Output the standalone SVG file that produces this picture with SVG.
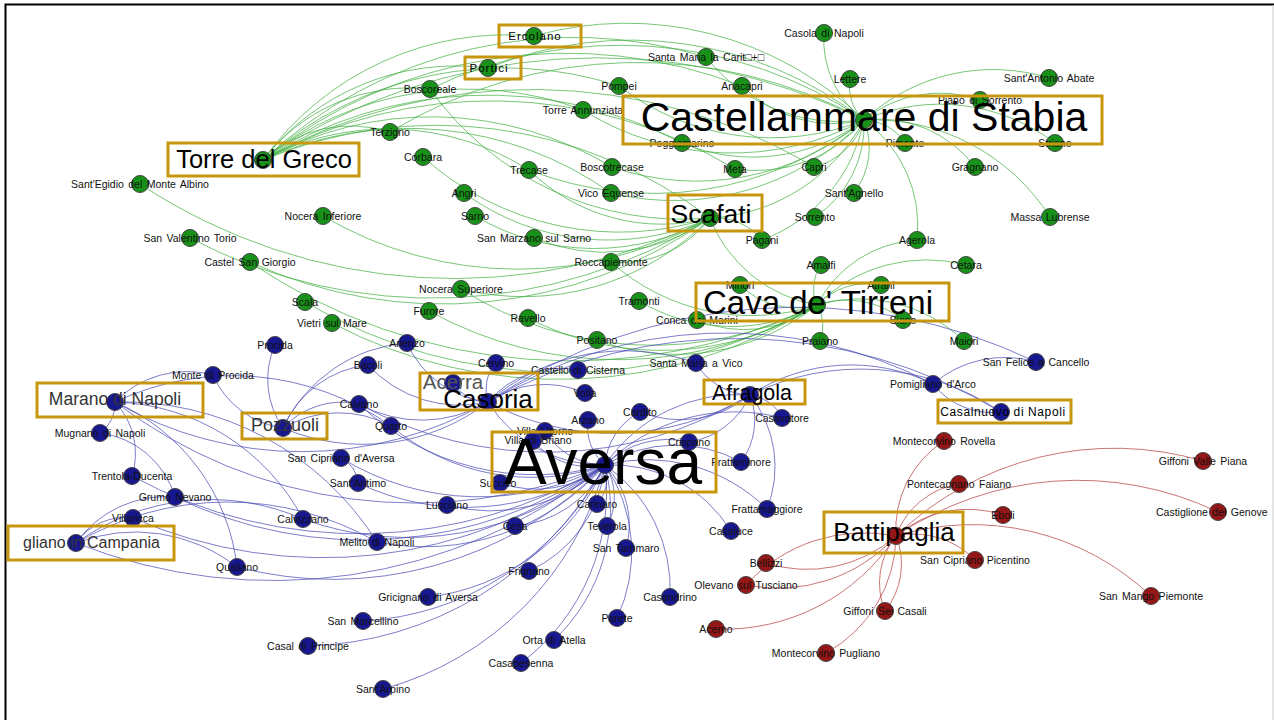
<svg xmlns="http://www.w3.org/2000/svg" width="1274" height="720" viewBox="0 0 1274 720">
<style>
.eg path{fill:none;stroke:#3fae3f;stroke-opacity:.7;stroke-width:1}
.eb path{fill:none;stroke:#4646b4;stroke-opacity:.7;stroke-width:1}
.er path{fill:none;stroke:#b84848;stroke-opacity:.75;stroke-width:1}
circle{stroke:#444;stroke-width:1}
.g{fill:#179117}
.b{fill:#17178f}
.r{fill:#951616}
text{font-family:"Liberation Sans",Arial,sans-serif;fill:#111}
.l{font-size:10.5px;text-anchor:middle;word-spacing:1.5px}
.hb{fill:none;stroke:#c8960c;stroke-width:3}
.ht{text-anchor:middle;fill:#000}
</style>
<rect width="1274" height="720" fill="#fff"/>
<path d="M5.5 720V4.5H1274" fill="none" stroke="#000" stroke-width="2"/>
<path d="M1273 5V720" stroke="#ccc" stroke-width="1"/>
<g id="connectors">
<g class="eg">
<path d="M864 120A100 100 0 0 1 824 33"/>
<path d="M864 120A45 45 0 0 1 850 79"/>
<path d="M864 120A130 130 0 0 1 742 86"/>
<path d="M864 120A170 170 0 0 1 706 57"/>
<path d="M864 120A250 250 0 0 1 619 86"/>
<path d="M864 120A120 120 0 0 1 980 100"/>
<path d="M864 120A190 190 0 0 1 1049 78"/>
<path d="M864 120A50 50 0 0 1 905 143"/>
<path d="M864 120A190 190 0 0 1 1055 143"/>
<path d="M864 120A120 120 0 0 1 975 167"/>
<path d="M864 120A210 210 0 0 1 1050 217"/>
<path d="M864 120A130 130 0 0 1 917 240"/>
<path d="M864 120A75 75 0 0 1 854 193"/>
<path d="M864 120A110 110 0 0 1 815 217"/>
<path d="M864 120A70 70 0 0 1 814 167"/>
<path d="M864 120A140 140 0 0 1 735 169"/>
<path d="M864 120A185 185 0 0 1 682 143"/>
<path d="M864 120A265 265 0 0 1 611 193"/>
<path d="M864 120A260 260 0 0 1 612 167"/>
<path d="M864 120A280 280 0 0 1 583 110"/>
<path d="M864 120A340 340 0 0 1 529 170"/>
<path d="M390 132A475 475 0 0 1 864 120"/>
<path d="M430 89A435 435 0 0 1 864 120"/>
<path d="M488 68A380 380 0 0 1 864 120"/>
<path d="M534 36A340 340 0 0 1 864 120"/>
<path d="M864 120A185 185 0 0 1 710 218"/>
<path d="M864 120A160 160 0 0 1 762 240"/>
<path d="M263 160A300 300 0 0 1 534 36"/>
<path d="M263 160A245 245 0 0 1 488 68"/>
<path d="M263 160A185 185 0 0 1 430 89"/>
<path d="M263 160A365 365 0 0 1 619 86"/>
<path d="M263 160A330 330 0 0 1 583 110"/>
<path d="M263 160A130 130 0 0 1 390 132"/>
<path d="M263 160A350 350 0 0 1 612 167"/>
<path d="M263 160A265 265 0 0 1 529 170"/>
<path d="M263 160A420 420 0 0 1 682 143"/>
<path d="M263 160A470 470 0 0 1 735 169"/>
<path d="M263 160A550 550 0 0 1 814 167"/>
<path d="M263 160A350 350 0 0 1 611 193"/>
<path d="M263 160A455 455 0 0 1 706 57"/>
<path d="M263 160A485 485 0 0 1 742 86"/>
<path d="M263 160A600 600 0 0 1 864 120"/>
<path d="M263 160A450 450 0 0 1 710 218"/>
<path d="M710 218A570 570 0 0 1 140 184"/>
<path d="M710 218A385 385 0 0 1 323 216"/>
<path d="M710 218A520 520 0 0 1 190 238"/>
<path d="M710 218A460 460 0 0 1 250 262"/>
<path d="M710 218A245 245 0 0 1 464 193"/>
<path d="M710 218A235 235 0 0 1 475 216"/>
<path d="M710 218A180 180 0 0 1 534 238"/>
<path d="M710 218A295 295 0 0 1 423 157"/>
<path d="M710 218A110 110 0 0 1 611 262"/>
<path d="M710 218A60 60 0 0 1 762 240"/>
<path d="M710 218A260 260 0 0 1 461 289"/>
<path d="M710 218A310 310 0 0 1 430 89"/>
<path d="M710 218A190 190 0 0 1 529 170"/>
<path d="M817 305A40 40 0 0 1 821 265"/>
<path d="M817 305A80 80 0 0 1 740 285"/>
<path d="M817 305A70 70 0 0 1 881 285"/>
<path d="M817 305A155 155 0 0 1 966 265"/>
<path d="M817 305A150 150 0 0 1 964 341"/>
<path d="M817 305A90 90 0 0 1 903 320"/>
<path d="M817 305A40 40 0 0 1 820 341"/>
<path d="M817 305A120 120 0 0 1 697 320"/>
<path d="M817 305A180 180 0 0 1 639 301"/>
<path d="M817 305A225 225 0 0 1 597 340"/>
<path d="M817 305A290 290 0 0 1 528 318"/>
<path d="M817 305A390 390 0 0 1 429 311"/>
<path d="M817 305A510 510 0 0 1 305 302"/>
<path d="M817 305A485 485 0 0 1 332 323"/>
<path d="M817 305A355 355 0 0 1 461 289"/>
<path d="M817 305A210 210 0 0 1 611 262"/>
<path d="M817 305A570 570 0 0 1 250 262"/>
<path d="M817 305A120 120 0 0 1 917 240"/>
<path d="M817 305A140 140 0 0 1 710 218"/>
</g>
<g class="eb">
<path d="M605 465A165 165 0 0 1 447 505"/>
<path d="M605 465A110 110 0 0 1 500 483"/>
<path d="M605 465A40 40 0 0 1 597 504"/>
<path d="M605 465A110 110 0 0 1 515 526"/>
<path d="M605 465A60 60 0 0 1 607 526"/>
<path d="M605 465A85 85 0 0 1 626 548"/>
<path d="M605 465A130 130 0 0 1 529 571"/>
<path d="M605 465A150 150 0 0 1 670 597"/>
<path d="M605 465A220 220 0 0 1 428 597"/>
<path d="M605 465A155 155 0 0 1 617 618"/>
<path d="M605 465A290 290 0 0 1 363 621"/>
<path d="M605 465A180 180 0 0 1 554 640"/>
<path d="M605 465A350 350 0 0 1 308 646"/>
<path d="M605 465A215 215 0 0 1 521 663"/>
<path d="M605 465A315 315 0 0 1 383 689"/>
<path d="M605 465A240 240 0 0 1 377 542"/>
<path d="M605 465A305 305 0 0 1 303 519"/>
<path d="M605 465A380 380 0 0 1 237 567"/>
<path d="M605 465A430 430 0 0 1 175 497"/>
<path d="M605 465A475 475 0 0 1 133 518"/>
<path d="M605 465A535 535 0 0 1 76 543"/>
<path d="M605 465A475 475 0 0 1 132 476"/>
<path d="M605 465A250 250 0 0 1 358 483"/>
<path d="M605 465A265 265 0 0 1 341 458"/>
<path d="M605 465A70 70 0 0 1 545 431"/>
<path d="M605 465A75 75 0 0 1 533 441"/>
<path d="M605 465A90 90 0 0 1 689 442"/>
<path d="M605 465A135 135 0 0 1 741 462"/>
<path d="M605 465A170 170 0 0 1 767 509"/>
<path d="M605 465A140 140 0 0 1 731 531"/>
<path d="M605 465A65 65 0 0 1 640 412"/>
<path d="M605 465A50 50 0 0 1 588 420"/>
<path d="M605 465A160 160 0 0 1 750 395"/>
<path d="M605 465A135 135 0 0 1 488 402"/>
<path d="M605 465A220 220 0 0 1 391 426"/>
<path d="M605 465A255 255 0 0 1 359 404"/>
<path d="M605 465A495 495 0 0 1 115 402"/>
<path d="M605 465A185 185 0 0 1 782 418"/>
<path d="M488 402A95 95 0 0 1 578 370"/>
<path d="M488 402A40 40 0 0 1 496 363"/>
<path d="M488 402A210 210 0 0 1 696 363"/>
<path d="M488 402A100 100 0 0 1 407 343"/>
<path d="M488 402A100 100 0 0 1 585 393"/>
<path d="M488 402A40 40 0 0 1 453 383"/>
<path d="M488 402A445 445 0 0 1 933 384"/>
<path d="M488 402A550 550 0 0 1 1036 362"/>
<path d="M488 402A515 515 0 0 1 1001 412"/>
<path d="M488 402A125 125 0 0 1 368 365"/>
<path d="M488 402A130 130 0 0 1 359 404"/>
<path d="M488 402A205 205 0 0 1 283 428"/>
<path d="M488 402A375 375 0 0 1 115 402"/>
<path d="M750 395A40 40 0 0 1 782 418"/>
<path d="M750 395A110 110 0 0 1 640 412"/>
<path d="M750 395A80 80 0 0 1 689 442"/>
<path d="M750 395A70 70 0 0 1 741 462"/>
<path d="M750 395A185 185 0 0 1 933 384"/>
<path d="M750 395A250 250 0 0 1 1001 412"/>
<path d="M750 395A65 65 0 0 1 696 363"/>
<path d="M750 395A115 115 0 0 1 767 509"/>
<path d="M750 395A265 265 0 0 1 488 402"/>
<path d="M750 395A390 390 0 0 1 359 404"/>
<path d="M115 402A35 35 0 0 1 100 433"/>
<path d="M115 402A75 75 0 0 1 132 476"/>
<path d="M115 402A100 100 0 0 1 213 375"/>
<path d="M115 402A220 220 0 0 1 303 519"/>
<path d="M115 402A300 300 0 0 1 377 542"/>
<path d="M115 402A205 205 0 0 1 237 567"/>
<path d="M115 402A275 275 0 0 1 391 426"/>
<path d="M283 428A85 85 0 0 1 275 345"/>
<path d="M283 428A90 90 0 0 1 213 375"/>
<path d="M283 428A105 105 0 0 1 368 365"/>
<path d="M283 428A80 80 0 0 1 359 404"/>
<path d="M283 428A110 110 0 0 1 391 426"/>
<path d="M283 428A150 150 0 0 1 407 343"/>
<path d="M76 543A60 60 0 0 1 133 518"/>
<path d="M76 543A110 110 0 0 1 175 497"/>
<path d="M76 543A165 165 0 0 1 237 567"/>
<path d="M76 543A230 230 0 0 1 303 519"/>
<path d="M76 543A300 300 0 0 1 377 542"/>
<path d="M100 433A90 90 0 0 1 175 497"/>
<path d="M341 458A30 30 0 0 1 358 483"/>
<path d="M1001 412A75 75 0 0 1 933 384"/>
<path d="M933 384A110 110 0 0 1 1036 362"/>
</g>
<g class="er">
<path d="M896 536A105 105 0 0 1 944 441"/>
<path d="M896 536A315 315 0 0 1 1203 461"/>
<path d="M896 536A80 80 0 0 1 959 484"/>
<path d="M896 536A325 325 0 0 1 1218 512"/>
<path d="M896 536A110 110 0 0 1 1003 515"/>
<path d="M896 536A85 85 0 0 1 975 560"/>
<path d="M896 536A135 135 0 0 1 766 563"/>
<path d="M896 536A160 160 0 0 1 746 585"/>
<path d="M896 536A75 75 0 0 1 885 611"/>
<path d="M896 536A260 260 0 0 1 1151 596"/>
<path d="M896 536A205 205 0 0 1 716 629"/>
<path d="M896 536A135 135 0 0 1 826 653"/>
<path d="M746 585A160 160 0 0 1 896 536"/>
<path d="M885 611A75 75 0 0 1 896 536"/>
</g>
</g>
<g id="nodes">
<g id="n-casola"><circle class="g" cx="824" cy="33" r="8.5"/><text class="l" x="824" y="37">Casola di Napoli</text></g>
<g id="n-smcarita"><circle class="g" cx="706" cy="57" r="8.5"/><text class="l" x="706" y="61">Santa Maria la Carit□+□</text></g>
<g id="n-lettere"><circle class="g" cx="850" cy="79" r="8.5"/><text class="l" x="850" y="83">Lettere</text></g>
<g id="n-anacapri"><circle class="g" cx="742" cy="86" r="8.5"/><text class="l" x="742" y="90">Anacapri</text></g>
<g id="n-pompei"><circle class="g" cx="619" cy="86" r="8.5"/><text class="l" x="619" y="90">Pompei</text></g>
<g id="n-boscoreale"><circle class="g" cx="430" cy="89" r="8.5"/><text class="l" x="430" y="93">Boscoreale</text></g>
<g id="n-torreann"><circle class="g" cx="583" cy="110" r="8.5"/><text class="l" x="583" y="114">Torre Annunziata</text></g>
<g id="n-santantonio"><circle class="g" cx="1049" cy="78" r="8.5"/><text class="l" x="1049" y="82">Sant'Antonio Abate</text></g>
<g id="n-piano"><circle class="g" cx="980" cy="100" r="8.5"/><text class="l" x="980" y="104">Piano di Sorrento</text></g>
<g id="n-poggio"><circle class="g" cx="682" cy="143" r="8.5"/><text class="l" x="682" y="147">Poggiomarino</text></g>
<g id="n-pimonte"><circle class="g" cx="905" cy="143" r="8.5"/><text class="l" x="905" y="147">Pimonte</text></g>
<g id="n-striano"><circle class="g" cx="1055" cy="143" r="8.5"/><text class="l" x="1055" y="147">Striano</text></g>
<g id="n-terzigno"><circle class="g" cx="390" cy="132" r="8.5"/><text class="l" x="390" y="136">Terzigno</text></g>
<g id="n-corbara"><circle class="g" cx="423" cy="157" r="8.5"/><text class="l" x="423" y="161">Corbara</text></g>
<g id="n-trecase"><circle class="g" cx="529" cy="170" r="8.5"/><text class="l" x="529" y="174">Trecase</text></g>
<g id="n-boscotrecase"><circle class="g" cx="612" cy="167" r="8.5"/><text class="l" x="612" y="171">Boscotrecase</text></g>
<g id="n-meta"><circle class="g" cx="735" cy="169" r="8.5"/><text class="l" x="735" y="173">Meta</text></g>
<g id="n-capri"><circle class="g" cx="814" cy="167" r="8.5"/><text class="l" x="814" y="171">Capri</text></g>
<g id="n-gragnano"><circle class="g" cx="975" cy="167" r="8.5"/><text class="l" x="975" y="171">Gragnano</text></g>
<g id="n-santegidio"><circle class="g" cx="140" cy="184" r="8.5"/><text class="l" x="140" y="188">Sant'Egidio del Monte Albino</text></g>
<g id="n-angri"><circle class="g" cx="464" cy="193" r="8.5"/><text class="l" x="464" y="197">Angri</text></g>
<g id="n-vico"><circle class="g" cx="611" cy="193" r="8.5"/><text class="l" x="611" y="197">Vico Equense</text></g>
<g id="n-santagnello"><circle class="g" cx="854" cy="193" r="8.5"/><text class="l" x="854" y="197">Sant'Agnello</text></g>
<g id="n-nocinf"><circle class="g" cx="323" cy="216" r="8.5"/><text class="l" x="323" y="220">Nocera Inferiore</text></g>
<g id="n-sarno"><circle class="g" cx="475" cy="216" r="8.5"/><text class="l" x="475" y="220">Sarno</text></g>
<g id="n-sorrento"><circle class="g" cx="815" cy="217" r="8.5"/><text class="l" x="815" y="221">Sorrento</text></g>
<g id="n-massa"><circle class="g" cx="1050" cy="217" r="8.5"/><text class="l" x="1050" y="221">Massa Lubrense</text></g>
<g id="n-sanvalentino"><circle class="g" cx="190" cy="238" r="8.5"/><text class="l" x="190" y="242">San Valentino Torio</text></g>
<g id="n-sanmarzano"><circle class="g" cx="534" cy="238" r="8.5"/><text class="l" x="534" y="242">San Marzano sul Sarno</text></g>
<g id="n-pagani"><circle class="g" cx="762" cy="240" r="8.5"/><text class="l" x="762" y="244">Pagani</text></g>
<g id="n-agerola"><circle class="g" cx="917" cy="240" r="8.5"/><text class="l" x="917" y="244">Agerola</text></g>
<g id="n-castelsg"><circle class="g" cx="250" cy="262" r="8.5"/><text class="l" x="250" y="266">Castel San Giorgio</text></g>
<g id="n-roccap"><circle class="g" cx="611" cy="262" r="8.5"/><text class="l" x="611" y="266">Roccapiemonte</text></g>
<g id="n-cetara"><circle class="g" cx="966" cy="265" r="8.5"/><text class="l" x="966" y="269">Cetara</text></g>
<g id="n-amalfi"><circle class="g" cx="821" cy="265" r="8.5"/><text class="l" x="821" y="269">Amalfi</text></g>
<g id="n-minori"><circle class="g" cx="740" cy="285" r="8.5"/><text class="l" x="740" y="289">Minori</text></g>
<g id="n-atrani"><circle class="g" cx="881" cy="285" r="8.5"/><text class="l" x="881" y="289">Atrani</text></g>
<g id="n-siano"><circle class="g" cx="903" cy="320" r="8.5"/><text class="l" x="903" y="324">Siano</text></g>
<g id="n-maiori"><circle class="g" cx="964" cy="341" r="8.5"/><text class="l" x="964" y="345">Maiori</text></g>
<g id="n-praiano"><circle class="g" cx="820" cy="341" r="8.5"/><text class="l" x="820" y="345">Praiano</text></g>
<g id="n-conca"><circle class="g" cx="697" cy="320" r="8.5"/><text class="l" x="697" y="324">Conca dei Marini</text></g>
<g id="n-tramonti"><circle class="g" cx="639" cy="301" r="8.5"/><text class="l" x="639" y="305">Tramonti</text></g>
<g id="n-positano"><circle class="g" cx="597" cy="340" r="8.5"/><text class="l" x="597" y="344">Positano</text></g>
<g id="n-ravello"><circle class="g" cx="528" cy="318" r="8.5"/><text class="l" x="528" y="322">Ravello</text></g>
<g id="n-furore"><circle class="g" cx="429" cy="311" r="8.5"/><text class="l" x="429" y="315">Furore</text></g>
<g id="n-nocsup"><circle class="g" cx="461" cy="289" r="8.5"/><text class="l" x="461" y="293">Nocera Superiore</text></g>
<g id="n-scala"><circle class="g" cx="305" cy="302" r="8.5"/><text class="l" x="305" y="306">Scala</text></g>
<g id="n-vietri"><circle class="g" cx="332" cy="323" r="8.5"/><text class="l" x="332" y="327">Vietri sul Mare</text></g>
<g id="n-smvico"><circle class="b" cx="696" cy="363" r="8.5"/><text class="l" x="696" y="367">Santa Maria a Vico</text></g>
<g id="n-castcisterna"><circle class="b" cx="578" cy="370" r="8.5"/><text class="l" x="578" y="374">Castello di Cisterna</text></g>
<g id="n-cervino"><circle class="b" cx="496" cy="363" r="8.5"/><text class="l" x="496" y="367">Cervino</text></g>
<g id="n-arienzo"><circle class="b" cx="407" cy="343" r="8.5"/><text class="l" x="407" y="347">Arienzo</text></g>
<g id="n-bacoli"><circle class="b" cx="368" cy="365" r="8.5"/><text class="l" x="368" y="369">Bacoli</text></g>
<g id="n-procida"><circle class="b" cx="275" cy="345" r="8.5"/><text class="l" x="275" y="349">Procida</text></g>
<g id="n-montedp"><circle class="b" cx="213" cy="375" r="8.5"/><text class="l" x="213" y="379">Monte di Procida</text></g>
<g id="n-caivano"><circle class="b" cx="359" cy="404" r="8.5"/><text class="l" x="359" y="408">Caivano</text></g>
<g id="n-quarto"><circle class="b" cx="391" cy="426" r="8.5"/><text class="l" x="391" y="430">Quarto</text></g>
<g id="n-volla"><circle class="b" cx="585" cy="393" r="8.5"/><text class="l" x="585" y="397">Volla</text></g>
<g id="n-arzano"><circle class="b" cx="588" cy="420" r="8.5"/><text class="l" x="588" y="424">Arzano</text></g>
<g id="n-cardito"><circle class="b" cx="640" cy="412" r="8.5"/><text class="l" x="640" y="416">Cardito</text></g>
<g id="n-casavatore"><circle class="b" cx="782" cy="418" r="8.5"/><text class="l" x="782" y="422">Casavatore</text></g>
<g id="n-villaliterno"><circle class="b" cx="545" cy="431" r="8.5"/><text class="l" x="545" y="435">Villa Literno</text></g>
<g id="n-villabriano"><circle class="b" cx="533" cy="441" r="8.5"/><text class="l" x="538" y="444">Villa di Briano</text></g>
<g id="n-crispano"><circle class="b" cx="689" cy="442" r="8.5"/><text class="l" x="689" y="446">Crispano</text></g>
<g id="n-frattaminore"><circle class="b" cx="741" cy="462" r="8.5"/><text class="l" x="741" y="466">Frattaminore</text></g>
<g id="n-sancipriano"><circle class="b" cx="341" cy="458" r="8.5"/><text class="l" x="341" y="462">San Cipriano d'Aversa</text></g>
<g id="n-santantimo"><circle class="b" cx="358" cy="483" r="8.5"/><text class="l" x="358" y="487">Sant'Antimo</text></g>
<g id="n-mugnano"><circle class="b" cx="100" cy="433" r="8.5"/><text class="l" x="100" y="437">Mugnano di Napoli</text></g>
<g id="n-trentola"><circle class="b" cx="132" cy="476" r="8.5"/><text class="l" x="132" y="480">Trentola-Ducenta</text></g>
<g id="n-grumo"><circle class="b" cx="175" cy="497" r="8.5"/><text class="l" x="175" y="501">Grumo Nevano</text></g>
<g id="n-villaricca"><circle class="b" cx="133" cy="518" r="8.5"/><text class="l" x="133" y="522">Villaricca</text></g>
<g id="n-calvizzano"><circle class="b" cx="303" cy="519" r="8.5"/><text class="l" x="303" y="523">Calvizzano</text></g>
<g id="n-lusciano"><circle class="b" cx="447" cy="505" r="8.5"/><text class="l" x="447" y="509">Lusciano</text></g>
<g id="n-succivo"><circle class="b" cx="500" cy="483" r="8.5"/><text class="l" x="498" y="487">Succivo</text></g>
<g id="n-carinaro"><circle class="b" cx="597" cy="504" r="8.5"/><text class="l" x="597" y="508">Carinaro</text></g>
<g id="n-cesa"><circle class="b" cx="515" cy="526" r="8.5"/><text class="l" x="515" y="530">Cesa</text></g>
<g id="n-teverola"><circle class="b" cx="607" cy="526" r="8.5"/><text class="l" x="607" y="530">Teverola</text></g>
<g id="n-melito"><circle class="b" cx="377" cy="542" r="8.5"/><text class="l" x="377" y="546">Melito di Napoli</text></g>
<g id="n-santammaro"><circle class="b" cx="626" cy="548" r="8.5"/><text class="l" x="626" y="552">San Tammaro</text></g>
<g id="n-qualiano"><circle class="b" cx="237" cy="567" r="8.5"/><text class="l" x="237" y="571">Qualiano</text></g>
<g id="n-frignano"><circle class="b" cx="529" cy="571" r="8.5"/><text class="l" x="529" y="575">Frignano</text></g>
<g id="n-casandrino"><circle class="b" cx="670" cy="597" r="8.5"/><text class="l" x="670" y="601">Casandrino</text></g>
<g id="n-gricignano"><circle class="b" cx="428" cy="597" r="8.5"/><text class="l" x="428" y="601">Gricignano di Aversa</text></g>
<g id="n-parete"><circle class="b" cx="617" cy="618" r="8.5"/><text class="l" x="617" y="622">Parete</text></g>
<g id="n-sanmarcellino"><circle class="b" cx="363" cy="621" r="8.5"/><text class="l" x="363" y="625">San Marcellino</text></g>
<g id="n-orta"><circle class="b" cx="554" cy="640" r="8.5"/><text class="l" x="554" y="644">Orta di Atella</text></g>
<g id="n-casaldp"><circle class="b" cx="308" cy="646" r="8.5"/><text class="l" x="308" y="650">Casal di Principe</text></g>
<g id="n-casapesenna"><circle class="b" cx="521" cy="663" r="8.5"/><text class="l" x="521" y="667">Casapesenna</text></g>
<g id="n-santarpino"><circle class="b" cx="383" cy="689" r="8.5"/><text class="l" x="383" y="693">Sant'Arpino</text></g>
<g id="n-frattamaggiore"><circle class="b" cx="767" cy="509" r="8.5"/><text class="l" x="767" y="513">Frattamaggiore</text></g>
<g id="n-casaluce"><circle class="b" cx="731" cy="531" r="8.5"/><text class="l" x="731" y="535">Casaluce</text></g>
<g id="n-pomigliano"><circle class="b" cx="933" cy="384" r="8.5"/><text class="l" x="933" y="388">Pomigliano d'Arco</text></g>
<g id="n-sanfelice"><circle class="b" cx="1036" cy="362" r="8.5"/><text class="l" x="1036" y="366">San Felice a Cancello</text></g>
<g id="n-acerra"><circle class="b" cx="453" cy="383" r="8.5"/><text x="453" y="389" style="font-size:20.5px;text-anchor:middle;fill:#555">Acerra</text></g>
<g id="n-montrovella"><circle class="r" cx="944" cy="441" r="8.5"/><text class="l" x="944" y="445">Montecorvino Rovella</text></g>
<g id="n-giffonivp"><circle class="r" cx="1203" cy="461" r="8.5"/><text class="l" x="1203" y="465">Giffoni Valle Piana</text></g>
<g id="n-pontecagnano"><circle class="r" cx="959" cy="484" r="8.5"/><text class="l" x="959" y="488">Pontecagnano Faiano</text></g>
<g id="n-castiglione"><circle class="r" cx="1218" cy="512" r="8.5"/><text class="l" x="1156" y="516" style="text-anchor:start">Castiglione del Genove</text></g>
<g id="n-eboli"><circle class="r" cx="1003" cy="515" r="8.5"/><text class="l" x="1003" y="519">Eboli</text></g>
<g id="n-sancipicentino"><circle class="r" cx="975" cy="560" r="8.5"/><text class="l" x="975" y="564">San Cipriano Picentino</text></g>
<g id="n-bellizzi"><circle class="r" cx="766" cy="563" r="8.5"/><text class="l" x="766" y="567">Bellizzi</text></g>
<g id="n-olevano"><circle class="r" cx="746" cy="585" r="8.5"/><text class="l" x="746" y="589">Olevano sul Tusciano</text></g>
<g id="n-giffonisc"><circle class="r" cx="885" cy="611" r="8.5"/><text class="l" x="885" y="615">Giffoni Sei Casali</text></g>
<g id="n-sanmango"><circle class="r" cx="1151" cy="596" r="8.5"/><text class="l" x="1151" y="600">San Mango Piemonte</text></g>
<g id="n-acerno"><circle class="r" cx="716" cy="629" r="8.5"/><text class="l" x="716" y="633">Acerno</text></g>
<g id="n-montpugliano"><circle class="r" cx="826" cy="653" r="8.5"/><text class="l" x="826" y="657">Montecorvino Pugliano</text></g>
</g>
<g id="hubs">
<g id="n-ercolano"><circle class="g" cx="534" cy="36" r="8.5"/><rect class="hb" x="499" y="25" width="82" height="22"/><text class="ht" x="535" y="40" style="font-size:11.5px;letter-spacing:1px">Ercolano</text></g>
<g id="n-portici"><circle class="g" cx="488" cy="68" r="8.5"/><rect class="hb" x="465" y="57" width="56" height="22"/><text class="ht" x="489" y="72" style="font-size:11.5px;letter-spacing:1px">Portici</text></g>
<g id="n-castellammare"><circle class="g" cx="864" cy="120" r="8.5"/><rect class="hb" x="623" y="96" width="479" height="48"/><text class="ht" x="864" y="131" style="font-size:41px">Castellammare di Stabia</text></g>
<g id="n-tdg"><circle class="g" cx="263" cy="160" r="8.5"/><rect class="hb" x="168" y="143" width="191" height="33"/><text class="ht" x="264" y="168" style="font-size:25.5px">Torre del Greco</text></g>
<g id="n-scafati"><circle class="g" cx="710" cy="218" r="8.5"/><rect class="hb" x="668" y="195" width="94" height="36"/><text class="ht" x="711" y="223" style="font-size:26.5px">Scafati</text></g>
<g id="n-cava"><circle class="g" cx="817" cy="305" r="8.5"/><rect class="hb" x="696" y="283" width="253" height="38"/><text class="ht" x="818" y="314" style="font-size:33px">Cava de' Tirreni</text></g>
<g id="n-casoria"><circle class="b" cx="488" cy="402" r="8.5"/><rect class="hb" x="420" y="373" width="118" height="37"/><text class="ht" x="488" y="408" style="font-size:26px">Casoria</text></g>
<g id="n-afragola"><circle class="b" cx="750" cy="395" r="8.5"/><rect class="hb" x="704" y="380" width="101" height="24"/><text class="ht" x="752" y="400" style="font-size:21.5px">Afragola</text></g>
<g id="n-marano"><circle class="b" cx="115" cy="402" r="8.5"/><rect class="hb" x="37" y="383" width="166" height="34"/><text class="ht" x="115" y="405" style="font-size:17.5px;fill:#333">Marano di Napoli</text></g>
<g id="n-pozzuoli"><circle class="b" cx="283" cy="428" r="8.5"/><rect class="hb" x="242" y="413" width="85" height="26"/><text class="ht" x="285" y="431" style="font-size:18px;fill:#333">Pozzuoli</text></g>
<g id="n-casalnuovo"><circle class="b" cx="1001" cy="412" r="8.5"/><rect class="hb" x="938" y="400" width="133" height="23"/><text class="ht" x="1003" y="416" style="font-size:12px;letter-spacing:.6px">Casalnuovo di Napoli</text></g>
<g id="n-aversa"><circle class="b" cx="605" cy="465" r="8.5"/><rect class="hb" x="492" y="432" width="224" height="60"/><text class="ht" x="603" y="484" style="font-size:64px">Aversa</text></g>
<g id="n-giugliano"><circle class="b" cx="76" cy="543" r="8.5"/><rect class="hb" x="8" y="526" width="166" height="34"/><text x="23" y="548" style="font-size:16px;fill:#333">gliano in Campania</text></g>
<g id="n-battipaglia"><circle class="r" cx="896" cy="536" r="8.5"/><rect class="hb" x="824" y="512" width="139" height="41"/><text class="ht" x="894" y="541" style="font-size:26px">Battipaglia</text></g>
</g>
</svg>
